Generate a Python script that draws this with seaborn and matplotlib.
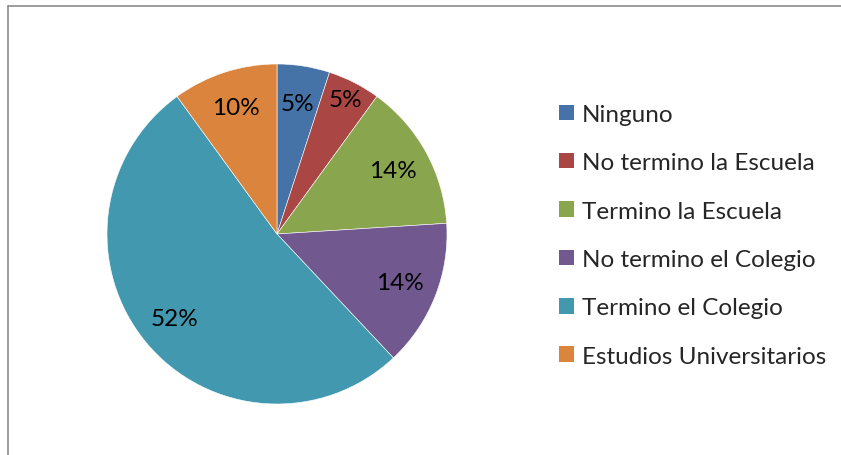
import matplotlib
matplotlib.use("Agg")
import matplotlib.pyplot as plt
import seaborn as sns
from matplotlib.patches import Patch
from matplotlib.lines import Line2D

categorias = ["Ninguno", "No termino la Escuela", "Termino la Escuela",
              "No termino el Colegio", "Termino el Colegio", "Estudios Universitarios"]
porcentajes = [5, 5, 14, 14, 52, 10]
colores = ["#4572A7", "#AA4643", "#89A54E", "#71588F", "#4198AF", "#DB843D"]

sns.set_theme(style="white")
plt.rcParams["font.family"] = ["Lato", "DejaVu Sans"]
paleta = sns.color_palette(colores)

fig = plt.figure(figsize=(8.41, 4.56), dpi=100)
ax = fig.add_axes([107 / 841, 51 / 456, 340 / 841, 340 / 456])

wedges, textos, autotextos = ax.pie(
    porcentajes, colors=paleta, startangle=90, counterclock=False,
    autopct="%1.0f%%", pctdistance=0.78,
    wedgeprops=dict(edgecolor="white", linewidth=0.4),
    textprops=dict(fontsize=17.5, color="black"),
)
# la etiqueta del segundo sector va un poco mas afuera (como en Excel)
x, y = autotextos[1].get_position()
autotextos[1].set_position((x * 0.89 / 0.78, y * 0.89 / 0.78))

ax.set_xlim(-1, 1)
ax.set_ylim(-1, 1)
ax.set_aspect("equal")

handles = [Patch(facecolor=c, edgecolor="none") for c in paleta]
fig.legend(handles, categorias, loc="upper left",
           bbox_to_anchor=(559 / 841, 1 - 105 / 456),
           frameon=False, fontsize=17.5, handlelength=0.6, handleheight=0.6,
           handletextpad=0.35, labelspacing=1.125, borderaxespad=0, borderpad=0)

# marco gris del area del grafico
fig.add_artist(Line2D([8 / 841, 1], [1 - 7 / 456, 1 - 7 / 456],
                      transform=fig.transFigure, color="#8c8c8c", lw=1.2))
fig.add_artist(Line2D([8 / 841, 8 / 841], [0, 1 - 7 / 456],
                      transform=fig.transFigure, color="#8c8c8c", lw=1.2))

fig.savefig("out.png", dpi=100)
